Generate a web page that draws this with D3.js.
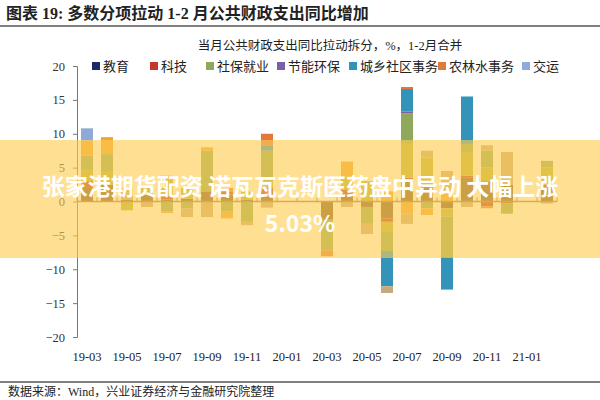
<!DOCTYPE html>
<html><head><meta charset="utf-8">
<script src="https://cdn.jsdelivr.net/npm/d3@7"></script>
<style>body{margin:0;background:#fff}svg{display:block}</style>
</head><body><svg id="c" width="600" height="400"></svg>
<script>
const months = ["19-03","19-04","19-05","19-06","19-07","19-08","19-09","19-10","19-11","19-12","20-01","20-02","20-03","20-04","20-05","20-06","20-07","20-08","20-09","20-10","20-11","20-12","21-01","21-02"];
const tickLabels = ["19-03","19-05","19-07","19-09","19-11","20-01","20-03","20-05","20-07","20-09","20-11","21-01"];
const yTicks = [-20,-15,-10,-5,0,5,10,15,20];
const seriesNames = ["一般公共服务","教育","科技","卫生健康","社保就业","节能环保","城乡社区事务","农林水事务","其他","交运","住房保障"];
const legendNames = ["教育","科技","社保就业","节能环保","城乡社区事务","农林水事务","交运"];
const seriesColors = ["#7a5632","#1b2a6b","#c0392b","#b3b23c","#8ea85c","#7a5ea6","#3393b8","#e0793a","#eea433","#8faad9","#c5a97c"];
const 一般公共服务 = [2,2.5,0.3,1,0.3,0.4,1.5,1,0.3,1,0,0,-2.7,1,-0.8,-2.5,3.2,2.5,-1,3.5,3,2.5,0,2];
const 教育 =       [0,0,0,0,0,0,0,0,0,0,0,0,0,0,0,0,0,0,0,0,0,0,0,0];
const 科技 =       [1,0,0,0,0.5,0,0,0.5,0,1,0,0,0,0.7,0,-0.5,0.3,0,0,0.3,-0.7,-0.3,0,0.5];
const 卫生健康 =   [1.8,2,-1.3,1,2.5,1.6,0,0,1.2,1,0,0,0,2,3,-1.5,5,4,-1.2,3.5,2,0,0,2.5];
const 社保就业 =   [2,2.5,0,0,-1.5,-1,6,-1.5,-3,4.5,0,0,-4.5,0,-2.5,-2.8,4.5,-1,-6,1.2,2.5,-1.5,0,1];
const 节能环保 =   [0,0,0,0,0,0,0,0,0,0,0,0,0,0,0,0,0.3,0,0,0,0,0,0,0];
const 城乡社区事务 = [0,0,0,0,0,0,0,0,0,0.7,0,0,0,0,0,-5.2,3.3,0,-4.8,7,0,0,0,0];
const 农林水事务 = [0,0,0,0,0.5,0,0,0.5,0,1.8,0,0,-0.9,0,0,0,0.3,0,0,0,-0.3,0,0,0];
const 其他 =       [2.2,2.5,0,0,-0.2,0,0.5,-1,0,0,0,0,0,2.2,0,1.5,-1.8,-1,1.5,0,0,0,0,0];
const 交运 =       [1.8,0,0,0,0,0,0,0,0,0,0,0,0,0,0,0,0,0,0,0,0,0,0,0];
const 住房保障 =   [0,0,1.7,-0.8,0,-1.3,-2.3,0,-0.5,-0.9,0,0,0,-0.8,-1.5,-1,-1.5,1,3,-0.8,0.8,4.8,0,-0.3];
const seriesValues = [一般公共服务,教育,科技,卫生健康,社保就业,节能环保,城乡社区事务,农林水事务,其他,交运,住房保障];

const svg = d3.select("#c");
const F = "'Liberation Serif','Noto Sans CJK SC',serif";
svg.append("text").attr("x",6).attr("y",19).attr("font-family",F).attr("font-weight","bold").attr("font-size",16).attr("fill","#222").text("图表 19:  多数分项拉动 1-2 月公共财政支出同比增加");
svg.append("line").attr("x1",0).attr("x2",600).attr("y1",26).attr("y2",26).attr("stroke","#555").attr("stroke-width",1.5);
svg.append("text").attr("x",330).attr("y",50).attr("text-anchor","middle").attr("font-family",F).attr("font-size",12.5).attr("fill","#222").text("当月公共财政支出同比拉动拆分，%，1-2月合并");

const x = d3.scaleBand().domain(months).range([77,557]).paddingInner(0.4).paddingOuter(0.2);
const y = d3.scaleLinear().domain([-20,20]).range([337,66]);

const g = svg.append("g");
months.forEach((m,i)=>{
  let pos=0, neg=0;
  seriesValues.forEach((arr,s)=>{
    const v=arr[i]; if(!v) return;
    let y0,y1;
    if(v>0){y0=pos;y1=pos+v;pos=y1;} else {y0=neg;y1=neg+v;neg=y1;}
    g.append("rect").attr("x",x(m)).attr("width",x.bandwidth())
      .attr("y",y(Math.max(y0,y1))).attr("height",Math.abs(y(y0)-y(y1))).attr("fill",seriesColors[s]);
  });
});

const ya = svg.append("g").attr("transform","translate(77,0)").call(d3.axisLeft(y).tickValues(yTicks).tickSize(4).tickPadding(8));
ya.select(".domain").attr("stroke","#777");
ya.selectAll("line").attr("stroke","#777");
ya.selectAll("text").attr("font-family",F).attr("font-size",12.5).attr("fill","#333");
const xa = svg.append("g").attr("transform",`translate(0,${y(0)})`);
xa.append("line").attr("x1",77).attr("x2",557).attr("stroke","#9b7a4a").attr("stroke-width",1.5);
months.forEach((m,i)=>{ const xx=77+i*20; xa.append("line").attr("x1",xx).attr("x2",xx).attr("y1",0).attr("y2",-4).attr("stroke","#9b7a4a");});
xa.append("line").attr("x1",557).attr("x2",557).attr("y1",0).attr("y2",-4).attr("stroke","#9b7a4a");
tickLabels.forEach(t=>{
  svg.append("text").attr("x",x(t)+x.bandwidth()/2).attr("y",361).attr("text-anchor","middle").attr("font-family",F).attr("font-size",12.5).attr("fill","#222").text(t);
});

const leg = svg.append("g");
const legX=[92,150,206,277,349,438,522];
legendNames.forEach((n,k)=>{
  const c=seriesColors[seriesNames.indexOf(n)];
  leg.append("rect").attr("x",legX[k]).attr("y",62).attr("width",8).attr("height",8).attr("fill",c);
  leg.append("text").attr("x",legX[k]+11).attr("y",71).attr("font-family",F).attr("font-size",13).attr("fill","#222").text(n);
});

svg.append("line").attr("x1",0).attr("x2",600).attr("y1",382).attr("y2",382).attr("stroke","#555").attr("stroke-width",1.5);
svg.append("text").attr("x",8).attr("y",396).attr("font-family",F).attr("font-size",12).attr("fill","#222").text("数据来源：Wind，兴业证券经济与金融研究院整理");

svg.append("rect").attr("x",0).attr("y",140).attr("width",600).attr("height",118).attr("fill","rgba(255,205,80,0.62)");
const B="'Noto Sans CJK SC',sans-serif";
svg.append("text").attr("x",300).attr("y",195).attr("text-anchor","middle").attr("font-family",B).attr("font-weight","bold").attr("font-size",23).attr("fill","#fff").text("张家港期货配资 诺瓦瓦克斯医药盘中异动 大幅上涨");
svg.append("text").attr("x",300).attr("y",232).attr("text-anchor","middle").attr("font-family",B).attr("font-weight","bold").attr("font-size",23).attr("fill","#fff").text("5.03%");
</script></body></html>
